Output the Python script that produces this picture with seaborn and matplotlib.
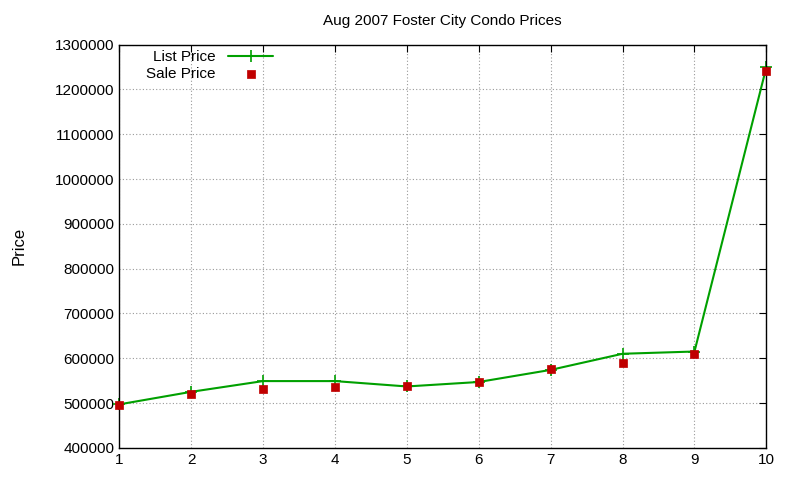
import matplotlib
matplotlib.use("Agg")
import matplotlib.pyplot as plt
import seaborn as sns
import pandas as pd

units = [1, 2, 3, 4, 5, 6, 7, 8, 9, 10]
list_price = [497000, 525000, 549000, 549000, 537000, 547000, 574000, 610000, 615000, 1250000]
sale_price = [495000, 520000, 532000, 535000, 539000, 547000, 575000, 590000, 610000, 1241000]
yticks = list(range(400000, 1300001, 100000))

df = pd.DataFrame({"x": units, "list": list_price, "sale": sale_price})
sns.set_style("white")
plt.rcParams['font.family'] = ['Liberation Sans', 'DejaVu Sans']
plt.rcParams['text.color'] = 'black'
plt.rcParams['axes.labelcolor'] = 'black'
plt.rcParams['xtick.color'] = 'black'
plt.rcParams['ytick.color'] = 'black'
fig = plt.figure(figsize=(8, 4.8), dpi=100)
ax = fig.add_axes([0.149, 0.067, 0.809, 0.84])
sns.lineplot(data=df, x="x", y="list", ax=ax, color="#00a000", marker="+", markersize=8,
             markeredgewidth=1.2, markeredgecolor="#00a000", linewidth=1.5,
             label="List Price", clip_on=False)
sns.scatterplot(data=df, x="x", y="sale", ax=ax, color="#c00000", marker="s", s=40,
                edgecolor="#c00000", label="Sale Price", zorder=3, clip_on=False)
ax.set_xlim(1, 10)
ax.set_ylim(400000, 1300000)
ax.set_xticks(units)
ax.set_yticks(yticks)
ax.set_yticklabels([str(v) for v in yticks])
ax.grid(True, color="#999999", linestyle=(0, (1, 2)), linewidth=0.8)
for s in ax.spines.values():
    s.set_color("black"); s.set_linewidth(1)
ax.tick_params(direction="in", labelsize=11, length=5, top=True, right=True)
ax.set_xlabel("")
ax.set_ylabel("Price", fontsize=12, labelpad=20)
ax.set_title("Aug 2007 Foster City Condo Prices", fontsize=11, pad=14)
leg = ax.legend(loc="upper left", frameon=False, fontsize=11, markerfirst=False,
                bbox_to_anchor=(0.02, 1.02), handlelength=3, labelspacing=0.2)
fig.savefig("out.png", dpi=100)
